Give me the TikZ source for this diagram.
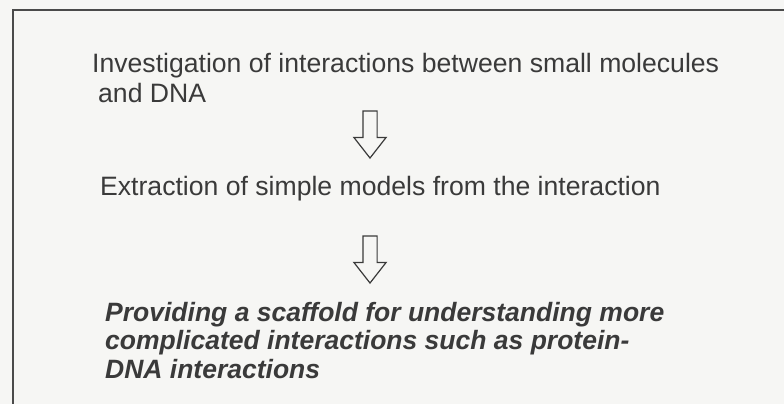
\documentclass[tikz,border=0pt]{standalone}
\usepackage{fontspec}
\setmainfont{Liberation Sans}
\usetikzlibrary{shapes.arrows}
\definecolor{paper}{HTML}{F6F6F4}
\definecolor{ink}{HTML}{3A3A3A}
\definecolor{frame}{HTML}{4A4A4A}
\tikzset{
    steptext/.style={anchor=north west, inner sep=0pt, align=left, text=ink,
        font=\fontsize{26.6}{30}\selectfont},
    goaltext/.style={anchor=north west, inner sep=0pt, align=left, text=ink,
        font=\bfseries\itshape\fontsize{26.5}{28.5}\selectfont},
    downarrow/.style={single arrow, draw=ink, line width=1.2pt, fill=paper,
        rotate=-90, minimum height=47pt, inner xsep=0pt, inner ysep=6.5pt,
        single arrow head extend=9pt, single arrow tip angle=76}
}
\begin{document}
\begin{tikzpicture}[x=1pt,y=-1pt]
        \path[fill=paper] (0,0) rectangle (784,404);
        \clip (0,0) rectangle (784,404);
        \draw[frame, line width=2pt] (13,10) rectangle (800,420);
        \node[steptext] (invest) at (92,53) {Investigation of interactions between small molecules\\\hspace*{6pt}and DNA};
        \node[downarrow] (arrA) at (370,130) {};
        \node[steptext] (extract) at (100,176) {Extraction of simple models from the interaction};
        \node[downarrow] (arrB) at (370,255) {};
        \node[goaltext] (scaffold) at (105,302) {Providing a scaffold for understanding more\\complicated interactions such as protein-\\DNA interactions};
    \end{tikzpicture}
\end{document}
